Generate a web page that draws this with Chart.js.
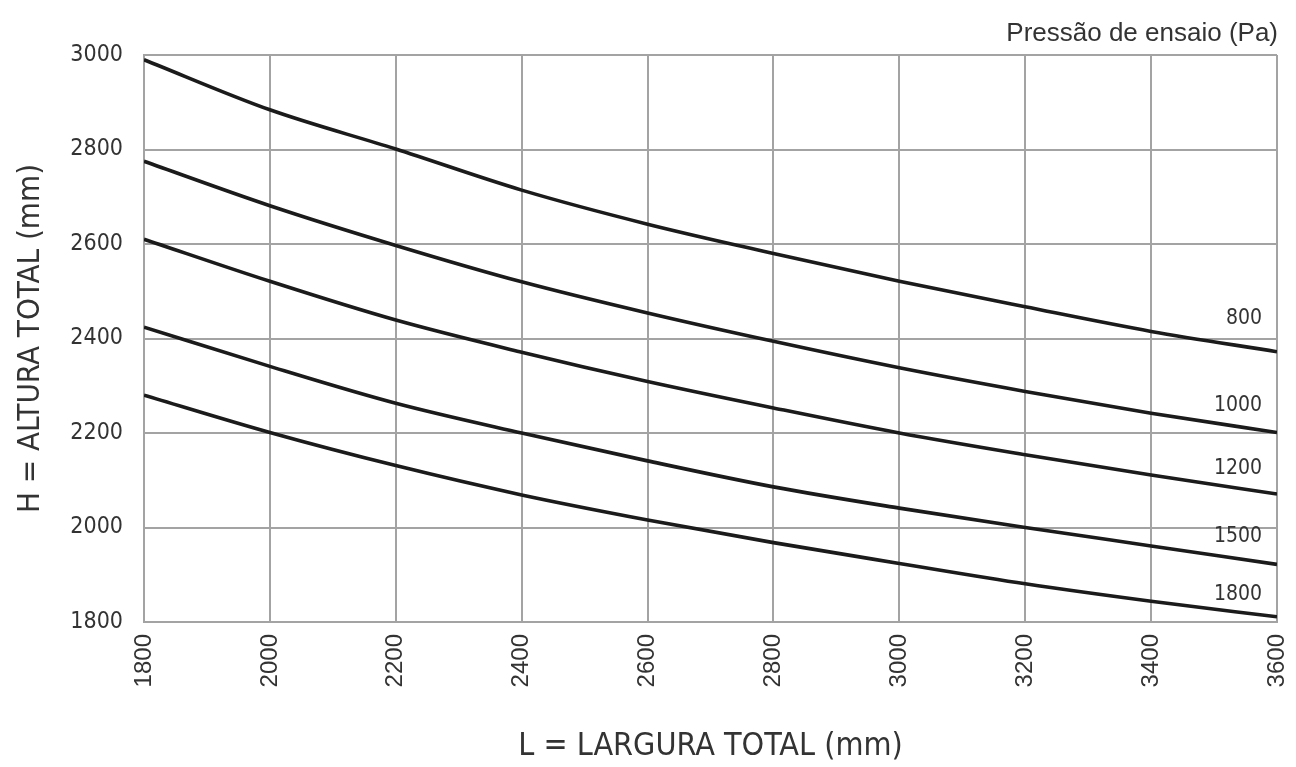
<!DOCTYPE html>
<html>
<head>
<meta charset="utf-8">
<script src="https://cdn.jsdelivr.net/npm/chart.js@4.4.1/dist/chart.umd.min.js"></script>
<style>
  html, body { margin: 0; padding: 0; background: #ffffff; }
  #wrap { width: 1296px; height: 767px; position: relative; }
</style>
</head>
<body>
<div id="wrap"><canvas id="c" width="1296" height="767"></canvas></div>
<script>
// ---- Data ----
const widths = [1800, 2000, 2200, 2400, 2600, 2800, 3000, 3200, 3400, 3600];
const pressures = ["800", "1000", "1200", "1500", "1800"];
const h800  = [2990, 2884, 2801, 2714, 2642, 2580, 2521, 2467, 2415, 2372];
const h1000 = [2775, 2681, 2597, 2520, 2454, 2394, 2338, 2288, 2242, 2201];
const h1200 = [2610, 2521, 2439, 2371, 2309, 2253, 2200, 2154, 2111, 2071];
const h1500 = [2424, 2341, 2263, 2200, 2141, 2086, 2041, 2000, 1961, 1922];
const h1800 = [2280, 2201, 2131, 2069, 2016, 1968, 1924, 1881, 1844, 1811];
const xTicks = [1800, 2000, 2200, 2400, 2600, 2800, 3000, 3200, 3400, 3600];
const yTicks = [1800, 2000, 2200, 2400, 2600, 2800, 3000];
const seriesValues = [h800, h1000, h1200, h1500, h1800];

const NARROW = "'DejaVu Sans Condensed', 'Liberation Sans Narrow', 'Liberation Sans', Arial, sans-serif";
const REG = "'Liberation Sans', Arial, sans-serif";
const TXT = '#333333';
const GRID = '#a3a3a3';

const datasets = seriesValues.map((vals, i) => ({
  label: pressures[i],
  data: widths.map((w, j) => ({ x: w, y: vals[j] })),
  borderColor: '#1b1b1b',
  borderWidth: 3.6,
  pointRadius: 0,
  fill: false,
  cubicInterpolationMode: 'monotone',
  tension: 0.4
}));

const labelPlugin = {
  id: 'curveLabels',
  afterDatasetsDraw(chart) {
    const ctx = chart.ctx;
    const xs = chart.scales.x, ys = chart.scales.y;
    ctx.save();
    ctx.fillStyle = TXT;
    ctx.font = "21px " + NARROW;
    ctx.textAlign = 'right';
    ctx.textBaseline = 'middle';
    const offsets = [-33, -27, -25, -28, -22];
    seriesValues.forEach((vals, i) => {
      const xp = xs.getPixelForValue(widths[widths.length - 1]) - 15;
      const yp = ys.getPixelForValue(vals[vals.length - 1]) + offsets[i];
      ctx.fillText(pressures[i], xp, yp);
    });
    // header
    ctx.font = "26px " + REG;
    ctx.textBaseline = 'alphabetic';
    ctx.fillText('Pressão de ensaio (Pa)', chart.chartArea.right + 1, 41);
    ctx.restore();
  }
};

new Chart(document.getElementById('c'), {
  type: 'line',
  data: { datasets },
  plugins: [labelPlugin],
  options: {
    responsive: false,
    animation: false,
    layout: { padding: { top: 55, right: 0, left: 0, bottom: 0 } },
    plugins: { legend: { display: false }, tooltip: { enabled: false } },
    scales: {
      x: {
        type: 'linear',
        min: 1800, max: 3600,
        afterBuildTicks(s) { s.ticks = xTicks.map(v => ({ value: v })); },
        afterFit(s) { s.height = 145; s.paddingRight = 19; s.paddingLeft = 0; },
        grid: { color: GRID, lineWidth: 2, drawTicks: false },
        border: { color: GRID, width: 2 },
        ticks: {
          color: TXT, font: { family: REG, size: 24 },
          minRotation: 90, maxRotation: 90, padding: 12,
          callback: v => String(v)
        },
        title: {
          display: true, text: 'L = LARGURA TOTAL (mm)', color: TXT,
          font: { family: NARROW, size: 32 }, padding: { top: 0, bottom: 1 }
        }
      },
      y: {
        type: 'linear',
        min: 1800, max: 3000,
        afterBuildTicks(s) { s.ticks = yTicks.map(v => ({ value: v })); },
        afterFit(s) { s.width = 144; },
        grid: { color: GRID, lineWidth: 2, drawTicks: false },
        border: { color: GRID, width: 2 },
        ticks: {
          color: TXT, font: { family: NARROW, size: 23 }, padding: 21,
          callback: v => String(v)
        },
        title: {
          display: true, text: 'H = ALTURA TOTAL (mm)', color: TXT,
          font: { family: NARROW, size: 31 }, padding: { top: 12, bottom: 0 }
        }
      }
    }
  }
});
</script>
</body>
</html>
